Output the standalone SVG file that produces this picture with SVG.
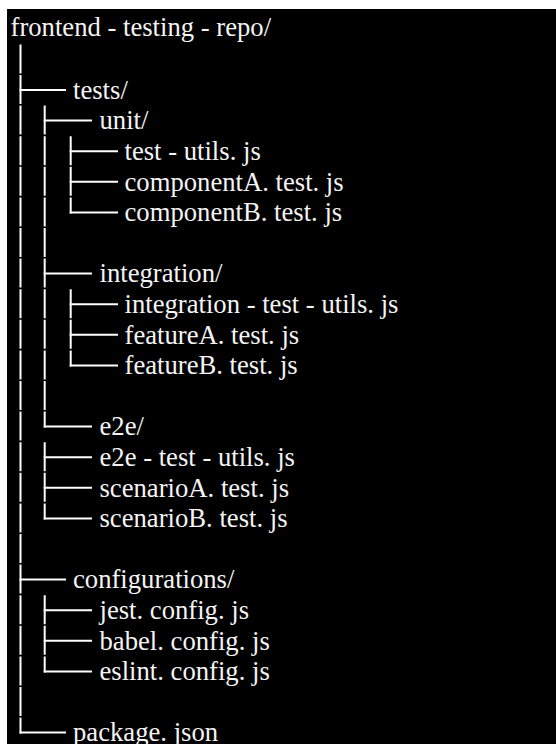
<svg xmlns="http://www.w3.org/2000/svg" width="556" height="744" viewBox="0 0 556 744">
  <style>
    .c { stroke: #ffffff; stroke-width: 2; fill: none; stroke-linecap: butt; }
  </style>
  <!-- page and terminal panel -->
  <rect x="0" y="0" width="556" height="744" fill="#ffffff"/>
  <rect x="7" y="9" width="549" height="735" fill="#000000"/>

  <!-- tree connectors: one short segment per row, like box-drawing glyphs -->
  <g id="connectors" class="c">
    <!-- level 1 trunk -->
    <path d="M20.5 44.4V73.4 M20.5 75V104 M20.5 105.6V134.6 M20.5 136.2V165.2 M20.5 166.8V195.8 M20.5 197.4V226.4 M20.5 228V257 M20.5 258.6V287.6 M20.5 289.2V318.2 M20.5 319.8V348.8 M20.5 350.4V379.4 M20.5 381V410 M20.5 411.6V440.6 M20.5 442.2V471.2 M20.5 472.8V501.8 M20.5 503.4V532.4 M20.5 534V563 M20.5 564.6V593.6 M20.5 595.2V624.2 M20.5 625.8V654.8 M20.5 656.4V685.4 M20.5 687V716 M20.5 717.6V733.6"/>
    <path d="M19.5 90H66 M19.5 579.6H66 M19.5 732.6H66"/>
    <!-- level 2 branches -->
    <path d="M44.7 105.6V134.6 M44.7 136.2V165.2 M44.7 166.8V195.8 M44.7 197.4V226.4 M44.7 228V257 M44.7 258.6V287.6 M44.7 289.2V318.2 M44.7 319.8V348.8 M44.7 350.4V379.4 M44.7 381V410 M44.7 411.6V427.6"/>
    <path d="M44.7 442.2V471.2 M44.7 472.8V501.8 M44.7 503.4V519.4"/>
    <path d="M44.7 595.2V624.2 M44.7 625.8V654.8 M44.7 656.4V672.4"/>
    <path d="M43.7 120.6H92 M43.7 273.6H92 M43.7 426.6H92 M43.7 457.2H92 M43.7 487.8H92 M43.7 518.4H92 M43.7 610.2H92 M43.7 640.8H92 M43.7 671.4H92"/>
    <!-- level 3 branches -->
    <path d="M70.7 136.2V165.2 M70.7 166.8V195.8 M70.7 197.4V213.4"/>
    <path d="M70.7 289.2V318.2 M70.7 319.8V348.8 M70.7 350.4V366.4"/>
    <path d="M69.7 151.2H118 M69.7 181.8H118 M69.7 212.4H118 M69.7 304.2H118 M69.7 334.8H118 M69.7 365.4H118"/>
  </g>

  <!-- entries -->
  <g id="entries" font-family="Liberation Serif, Times New Roman, Times, DejaVu Serif, serif" font-size="26.67" fill="#f4f4f4">
    <g id="root"><text x="10.5" y="36">frontend - testing - repo/</text></g>
    <g id="tests"><text x="73" y="98.8">tests/</text></g>
    <g id="unit"><text x="99.5" y="129.4">unit/</text></g>
    <g id="test-utils"><text x="124.5" y="160">test - utils. js</text></g>
    <g id="componentA"><text x="124.5" y="190.6">componentA. test. js</text></g>
    <g id="componentB"><text x="124.5" y="221.2">componentB. test. js</text></g>
    <g id="integration"><text x="99.5" y="282.4">integration/</text></g>
    <g id="integration-test-utils"><text x="124.5" y="313">integration - test - utils. js</text></g>
    <g id="featureA"><text x="124.5" y="343.6">featureA. test. js</text></g>
    <g id="featureB"><text x="124.5" y="374.2">featureB. test. js</text></g>
    <g id="e2e"><text x="99.5" y="435.4">e2e/</text></g>
    <g id="e2e-test-utils"><text x="99.5" y="466">e2e - test - utils. js</text></g>
    <g id="scenarioA"><text x="99.5" y="496.6">scenarioA. test. js</text></g>
    <g id="scenarioB"><text x="99.5" y="527.2">scenarioB. test. js</text></g>
    <g id="configurations"><text x="73" y="588.4">configurations/</text></g>
    <g id="jest-config"><text x="99.5" y="619">jest. config. js</text></g>
    <g id="babel-config"><text x="99.5" y="649.6">babel. config. js</text></g>
    <g id="eslint-config"><text x="99.5" y="680.2">eslint. config. js</text></g>
    <g id="package-json"><text x="73" y="741.4">package. json</text></g>
  </g>
</svg>
